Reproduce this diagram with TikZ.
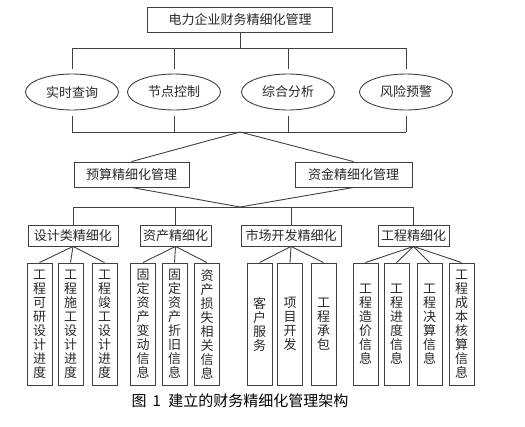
\documentclass[tikz,border=0pt]{standalone}
\usepackage{fontspec}
\setmainfont{Noto Sans CJK SC}
\usetikzlibrary{shapes.geometric}
\definecolor{fmline}{RGB}{64,64,64}
\definecolor{fmtext}{RGB}{40,40,40}

\begin{document}
\begin{tikzpicture}[
  x=1pt, y=-1pt,
  font=\fontsize{13}{14}\selectfont,
  box/.style={draw=fmline, line width=0.9pt, inner sep=1pt, text=fmtext},
  oval/.style={ellipse, draw=fmline, line width=0.9pt, minimum width=93pt, minimum height=36pt, inner sep=0pt, text=fmtext},
  leaf/.style={box, minimum width=25pt, minimum height=122pt, align=center},
  link/.style={draw=fmline, line width=0.9pt}
]
\useasboundingbox (0,0) rectangle (525,426);

% top level
\node[box, minimum width=185pt, minimum height=25pt] (root) at (240,19.5) {电力企业财务精细化管理};

% functions
\node[oval] (q1) at (72,92) {实时查询};
\node[oval] (q2) at (174,92) {节点控制};
\node[oval] (q3) at (288,92) {综合分析};
\node[oval] (q4) at (406,92) {风险预警};

\coordinate (upbar) at (0,48);
\coordinate (lowbar) at (0,132);
\draw[link] (root.south) -- (root.south |- upbar);
\draw[link] (q1.north |- upbar) -- (q4.north |- upbar);
\draw[link] (q1.south |- lowbar) -- (q4.south |- lowbar);
\foreach \q in {q1,q2,q3,q4} {
  \draw[link, shorten >=5pt] (\q.north |- upbar) -- (\q.north);
  \draw[link, shorten <=6pt] (\q.south) -- (\q.south |- lowbar);
}

% budget / funds
\node[box, minimum width=115pt, minimum height=25pt] (ys) at (131.5,174.5) {预算精细化管理};
\node[box, minimum width=117pt, minimum height=25pt] (zj) at (353.5,174.5) {资金精细化管理};
\coordinate (hub1) at (240,132);
\coordinate (hub2) at (240,207);
\draw[link] (ys.north) -- (hub1) -- (zj.north);
\draw[link] (ys.south) -- (hub2) -- (zj.south);

% refinement groups
\foreach \n/\x/\w/\t in {sj/73/90/设计类精细化, zc/175.5/71/资产精细化, sc/291/100/市场开发精细化, gc/413.5/71/工程精细化} {
  \node[box, minimum width=\w pt, minimum height=21pt] (\n) at (\x,235.5) {\t};
}
\draw[link] (sj.north |- hub2) -- (gc.north |- hub2);
\foreach \n in {sj,zc,sc,gc}
  \draw[link] (\n.north |- hub2) -- (\n.north);

% leaves
\foreach \n/\p/\x/\t in {
  sj1/sj/39.5/{工\\程\\可\\研\\设\\计\\进\\度},
  sj2/sj/70.5/{工\\程\\施\\工\\设\\计\\进\\度},
  sj3/sj/104.5/{工\\程\\竣\\工\\设\\计\\进\\度},
  zc1/zc/143/{固\\定\\资\\产\\变\\动\\信\\息},
  zc2/zc/174.5/{固\\定\\资\\产\\折\\旧\\信\\息},
  zc3/zc/207/{资\\产\\损\\失\\相\\关\\信\\息},
  sc1/sc/259.5/{客\\户\\服\\务},
  sc2/sc/290/{项\\目\\开\\发},
  sc3/sc/323.5/{工\\程\\承\\包},
  gc1/gc/365.5/{工\\程\\造\\价\\信\\息},
  gc2/gc/396.5/{工\\程\\进\\度\\信\\息},
  gc3/gc/429.5/{工\\程\\决\\算\\信\\息},
  gc4/gc/461.5/{工\\程\\成\\本\\核\\算\\信\\息}} {
  \node[leaf] (\n) at (\x,324) {\t};
  \draw[link] (\p.south) -- (\n.north);
}

% caption
\node[font=\fontsize{15}{16}\selectfont, text=black] (cap) at (240,401) {图\hspace{0.4em}1\hspace{0.5em}建立的财务精细化管理架构};
\end{tikzpicture}
\end{document}
